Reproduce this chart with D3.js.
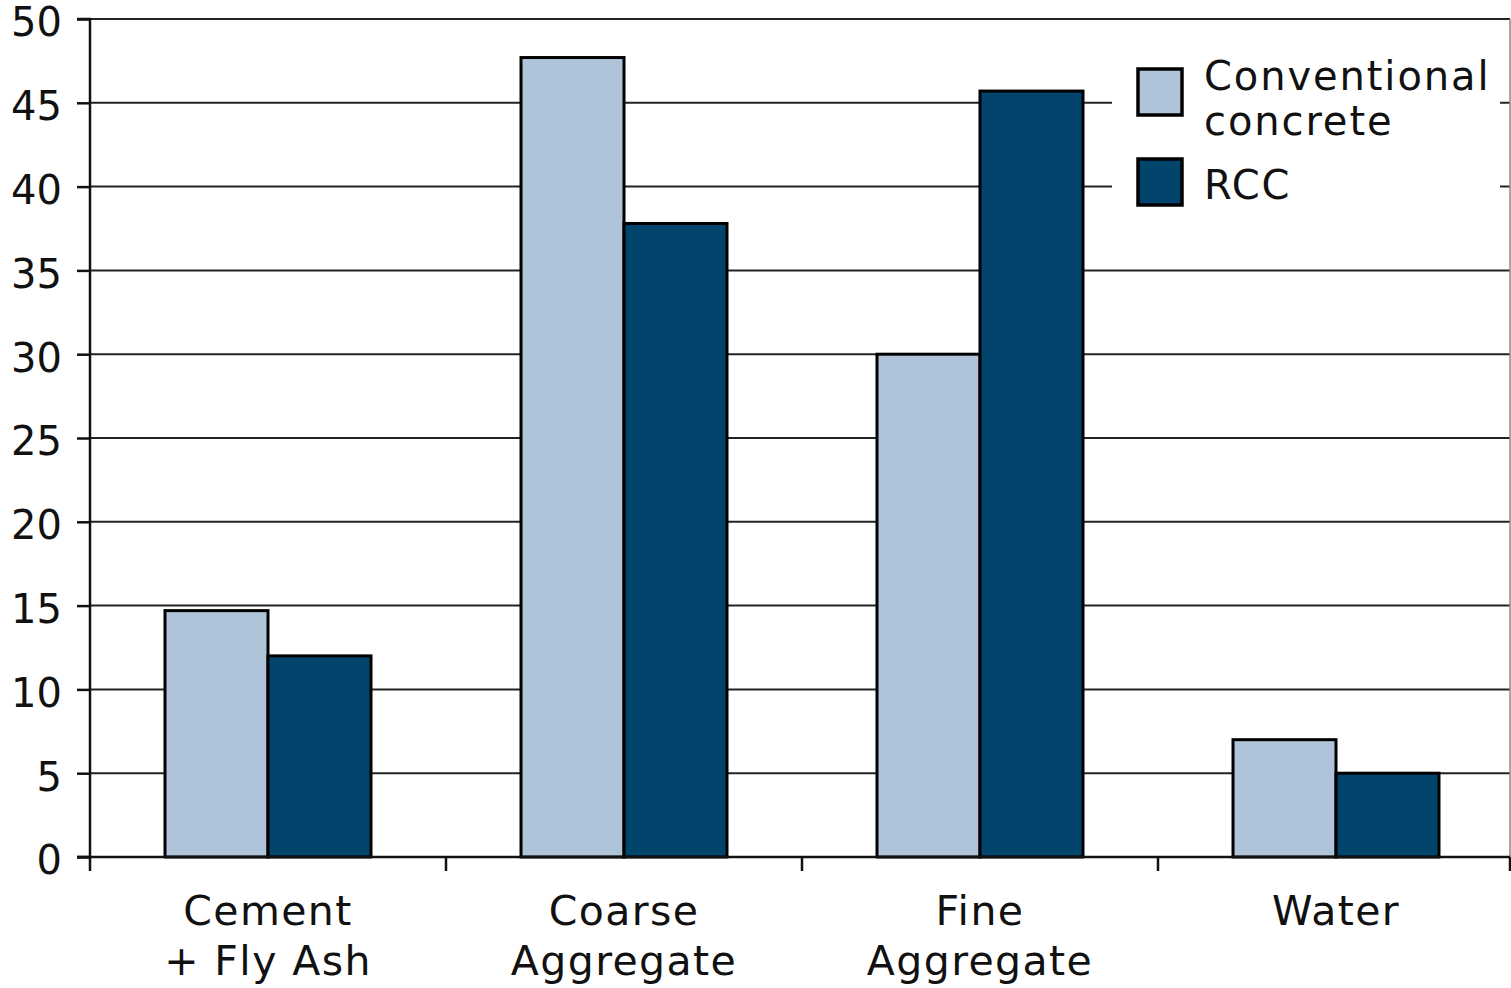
<!DOCTYPE html>
<html>
<head>
<meta charset="utf-8">
<script src="https://cdn.jsdelivr.net/npm/d3@7"></script>
<style>
  html, body { margin: 0; padding: 0; background: #fff; }
  svg { display: block; }
  text { font-family: "DejaVu Sans", sans-serif; fill: #111; }
</style>
</head>
<body>
<svg id="chart" width="1511" height="988"></svg>
<script>
// Mix proportions (% by volume) of conventional concrete vs. roller-compacted concrete
const categories = [["Cement", "+ Fly Ash"], ["Coarse", "Aggregate"], ["Fine", "Aggregate"], ["Water"]];
const seriesNames = [["Conventional", "concrete"], ["RCC"]];
const conventional = [14.7, 47.7, 30, 7];
const rcc = [12, 37.8, 45.7, 5];
const yTicks = [0, 5, 10, 15, 20, 25, 30, 35, 40, 45, 50];
const colors = ["#afc4d8", "#02456c"];

const svg = d3.select("#chart");
const margin = { top: 19, right: 1, bottom: 131, left: 90 };
const W = 1511, H = 988;
const iw = W - margin.left - margin.right;
const ih = H - margin.top - margin.bottom;
const g = svg.append("g").attr("transform", `translate(${margin.left},${margin.top})`);

const keys = categories.map((c, i) => i);
const x0 = d3.scaleBand().domain(keys).range([0, iw + 4]).paddingInner(0).paddingOuter(0);
const x1 = d3.scaleBand().domain([0, 1]).range([75, x0.bandwidth() - 75]).padding(0);
const y = d3.scaleLinear().domain([0, 50]).range([ih, 0]);

// horizontal gridlines
g.append("g").selectAll("line").data(yTicks.filter(t => t > 0)).join("line")
  .attr("x1", 0).attr("x2", iw)
  .attr("y1", d => y(d)).attr("y2", d => y(d))
  .attr("stroke", "#222").attr("stroke-width", 2);

// right frame edge
g.append("line").attr("x1", iw).attr("x2", iw).attr("y1", 0).attr("y2", ih)
  .attr("stroke", "#888").attr("stroke-width", 1.5);

// bars
const series = [conventional, rcc];
const groups = g.append("g").selectAll("g").data(keys).join("g")
  .attr("transform", d => `translate(${x0(d)},0)`);
groups.selectAll("rect").data(i => series.map((s, k) => ({ k, v: s[i] }))).join("rect")
  .attr("x", d => x1(d.k))
  .attr("width", x1.bandwidth())
  .attr("y", d => y(d.v))
  .attr("height", d => y(0) - y(d.v))
  .attr("fill", d => colors[d.k])
  .attr("stroke", "#000").attr("stroke-width", 3);

// y axis
const yAxis = g.append("g").call(d3.axisLeft(y).tickValues(yTicks).tickSize(13).tickPadding(15));
yAxis.select(".domain").attr("stroke", "#111").attr("stroke-width", 2.5).attr("d", `M-13,${ih}H0V0H-13`);
yAxis.selectAll(".tick line").attr("stroke", "#111").attr("stroke-width", 2.5);
yAxis.selectAll(".tick text").attr("font-size", 40).attr("fill", "#111").attr("dy", "0.42em")
  .style("font-family", '"DejaVu Sans", sans-serif');

// x axis: ticks at band boundaries
const xAxisG = g.append("g").attr("transform", `translate(0,${ih})`);
xAxisG.append("line").attr("x1", -13).attr("x2", iw).attr("y1", 0).attr("y2", 0)
  .attr("stroke", "#111").attr("stroke-width", 2.5);
const bounds = keys.map(k => x0(k)).concat([iw]);
xAxisG.selectAll("line.tk").data(bounds).join("line").attr("class", "tk")
  .attr("x1", d => d).attr("x2", d => d).attr("y1", 0).attr("y2", 14)
  .attr("stroke", "#111").attr("stroke-width", 2.5);
const lbl = xAxisG.selectAll("text.cat").data(keys).join("text").attr("class", "cat")
  .attr("x", d => x0(d) + x0.bandwidth() / 2)
  .attr("text-anchor", "middle").attr("font-size", 41).attr("letter-spacing", 1.4);
lbl.selectAll("tspan").data(d => categories[d]).join("tspan")
  .attr("x", function () { return d3.select(this.parentNode).attr("x"); })
  .attr("y", (d, i) => 68 + i * 50)
  .text(d => d);

// legend
const leg = g.append("g").attr("transform", `translate(1022,0)`);
leg.append("rect").attr("x", 0).attr("y", 24).attr("width", 388).attr("height", 200).attr("fill", "#fff");
const items = leg.selectAll("g.item").data([0, 1]).join("g").attr("class", "item")
  .attr("transform", (d, i) => `translate(26,${i === 0 ? 50 : 140})`);
items.append("rect").attr("width", 44).attr("height", 46)
  .attr("fill", d => colors[d]).attr("stroke", "#000").attr("stroke-width", 3.5);
items.append("text").attr("font-size", 40).attr("letter-spacing", 1.9)
  .selectAll("tspan").data(d => seriesNames[d]).join("tspan")
  .attr("x", 66).attr("y", (d, i, n) => (n.length === 1 ? 40 : 21 + i * 45))
  .text(d => d);
</script>
</body>
</html>
